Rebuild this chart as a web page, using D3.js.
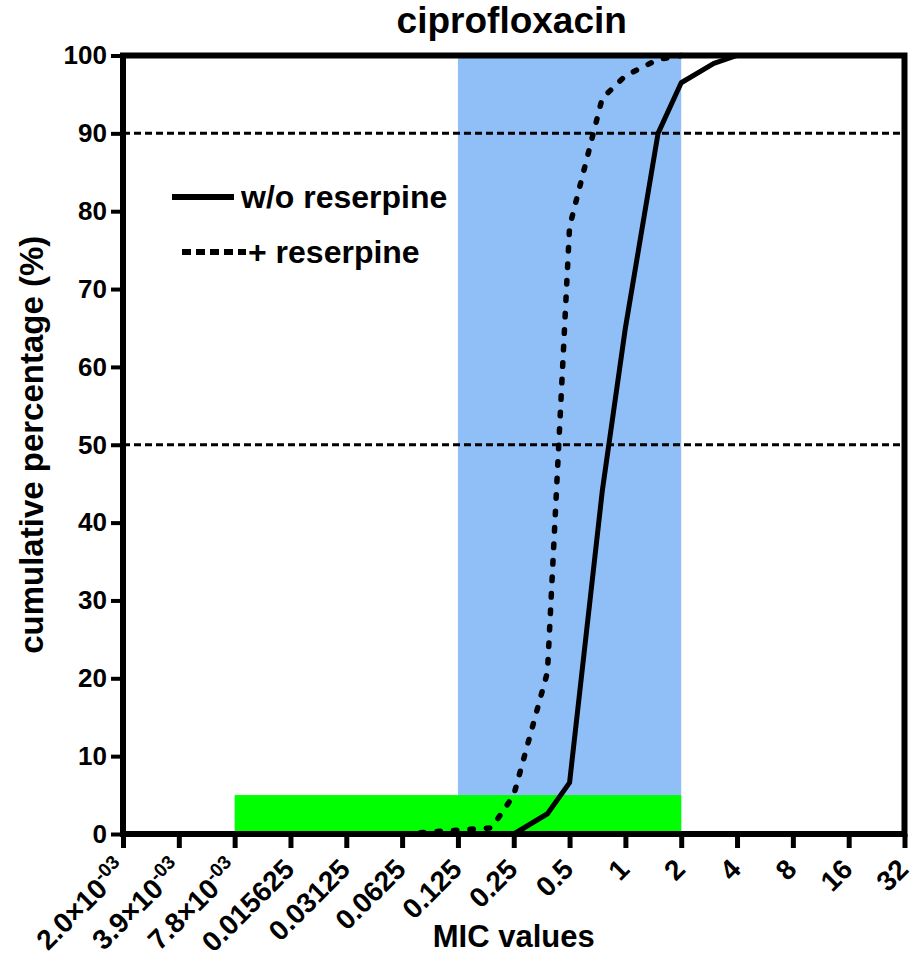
<!DOCTYPE html>
<html>
<head>
<meta charset="utf-8">
<script src="https://cdnjs.cloudflare.com/ajax/libs/d3/7.8.5/d3.min.js"></script>
<style>
body { margin: 0; background: #fff; }
svg text { font-family: "Liberation Sans", Arial, sans-serif; font-weight: bold; fill: #000; }
</style>
</head>
<body>
<div id="chart-area"></div>
<script>
/*
*    ciprofloxacin MIC cumulative curves
*/

// Data
var xTicks = [0.001953125, 0.00390625, 0.0078125, 0.015625, 0.03125, 0.0625,
    0.125, 0.25, 0.5, 1, 2, 4, 8, 16, 32];
var yTicks = [0, 10, 20, 30, 40, 50, 60, 70, 80, 90, 100];
var refLines = [50, 90];

// w/o reserpine
var micWo = [0.19, 0.25, 0.38, 0.5, 0.75, 1, 1.5, 2, 3, 4];
var pctWo = [0, 0, 2.6, 6.6, 44, 65, 90, 96.5, 99, 100];

// + reserpine
var micPlus = [0.064, 0.094, 0.125, 0.19, 0.25, 0.38, 0.5, 0.75, 1, 1.5, 2];
var pctPlus = [0, 0.3, 0.5, 0.8, 5, 20.8, 78, 94.5, 97.4, 99.5, 100];

// shaded ranges
var blueRange = [0.125, 2], bluePct = [0, 100];
var greenRange = [0.0078125, 2], greenPct = [0, 5];

var legendNames = ["w/o reserpine", "+ reserpine"];

var margin = { left:123, right:13.5, top:55.5, bottom:124 };
var width = 918 - margin.left - margin.right,
    height = 958 - margin.top - margin.bottom;

var svg = d3.select("#chart-area")
    .append("svg")
    .attr("width", 918)
    .attr("height", 958);

var g = svg.append("g")
    .attr("transform", "translate(" + margin.left + "," + margin.top + ")");

// Scales
var x = d3.scaleLog().base(2)
    .domain([xTicks[0], xTicks[xTicks.length - 1]])
    .range([0, width]);
var y = d3.scaleLinear()
    .domain([0, 100])
    .range([height, 0]);

// Bands
g.append("rect")
    .attr("x", x(blueRange[0]))
    .attr("width", x(blueRange[1]) - x(blueRange[0]))
    .attr("y", y(bluePct[1]))
    .attr("height", y(bluePct[0]) - y(bluePct[1]))
    .attr("fill", "#90bff8");
g.append("rect")
    .attr("x", x(greenRange[0]))
    .attr("width", x(greenRange[1]) - x(greenRange[0]))
    .attr("y", y(greenPct[1]))
    .attr("height", y(greenPct[0]) - y(greenPct[1]))
    .attr("fill", "#00ff00");

// Reference lines
g.selectAll(".ref").data(refLines)
    .enter().append("line")
    .attr("class", "ref")
    .attr("x1", 0).attr("x2", width)
    .attr("y1", function(d){ return y(d); })
    .attr("y2", function(d){ return y(d); })
    .attr("stroke", "#000")
    .attr("stroke-width", 3)
    .attr("stroke-dasharray", "7,4");

// Lines
var line = d3.line()
    .x(function(d){ return x(d[0]); })
    .y(function(d){ return y(d[1]); });

g.append("path")
    .datum(d3.zip(micWo, pctWo))
    .attr("fill", "none")
    .attr("stroke", "#000")
    .attr("stroke-width", 5)
    .attr("stroke-linejoin", "round")
    .attr("d", line);

g.append("path")
    .datum(d3.zip(micPlus, pctPlus))
    .attr("fill", "none")
    .attr("stroke", "#000")
    .attr("stroke-width", 5.5)
    .attr("stroke-linecap", "round")
    .attr("stroke-dasharray", "3.5,13")
    .attr("d", line);

// Frame
g.append("rect")
    .attr("width", width)
    .attr("height", height)
    .attr("fill", "none")
    .attr("stroke", "#000")
    .attr("stroke-width", 6)
    .attr("stroke-linejoin", "miter");

// Y Axis
var yAxisCall = d3.axisLeft(y)
    .tickValues(yTicks)
    .tickSize(12)
    .tickSizeOuter(0)
    .tickPadding(4);
var yAxis = g.append("g")
    .attr("class", "y axis")
    .call(yAxisCall);
yAxis.select(".domain").remove();
yAxis.selectAll(".tick line").attr("stroke-width", 4);
yAxis.selectAll(".tick text")
    .attr("font-size", "26px")
    .attr("font-family", null);

// X Axis
var xAxisCall = d3.axisBottom(x)
    .tickValues(xTicks)
    .tickSize(14)
    .tickSizeOuter(0)
    .tickFormat("");
var xAxis = g.append("g")
    .attr("class", "x axis")
    .attr("transform", "translate(0," + height + ")")
    .call(xAxisCall);
xAxis.select(".domain").remove();
xAxis.selectAll(".tick line").attr("stroke-width", 5);
xAxis.selectAll(".tick").each(function(d){
    var t = d3.select(this).append("text")
        .attr("font-size", "28px")
        .attr("text-anchor", "end")
        .attr("transform", "translate(5,37) rotate(-45)");
    if (d < 0.01) {
        var p = d.toExponential(1).split("e");
        t.text(p[0] + "\u00d710");
        t.append("tspan")
            .attr("dy", -11)
            .attr("font-size", "19px")
            .text("-0" + (-p[1]));
    } else {
        t.text(d);
    }
});

// Labels
svg.append("text")
    .attr("x", margin.left + width / 2 - 2)
    .attr("y", 33)
    .attr("font-size", "37px")
    .attr("text-anchor", "middle")
    .text("ciprofloxacin");

svg.append("text")
    .attr("x", margin.left + width / 2)
    .attr("y", 947)
    .attr("font-size", "31px")
    .attr("text-anchor", "middle")
    .text("MIC values");

svg.append("text")
    .attr("transform", "translate(43," + (margin.top + height / 2) + ") rotate(-90)")
    .attr("font-size", "33px")
    .attr("text-anchor", "middle")
    .text("cumulative percentage (%)");

// Legend
svg.append("line")
    .attr("x1", 172).attr("x2", 234)
    .attr("y1", 197).attr("y2", 197)
    .attr("stroke", "#000")
    .attr("stroke-width", 6);
svg.append("text")
    .attr("x", 241).attr("y", 208)
    .attr("font-size", "32px")
    .text(legendNames[0]);

svg.append("line")
    .attr("x1", 182).attr("x2", 246)
    .attr("y1", 252).attr("y2", 252)
    .attr("stroke", "#000")
    .attr("stroke-width", 6)
    .attr("stroke-dasharray", "9,5");
svg.append("text")
    .attr("x", 248).attr("y", 263)
    .attr("font-size", "32px")
    .text(legendNames[1]);
</script>
</body>
</html>
